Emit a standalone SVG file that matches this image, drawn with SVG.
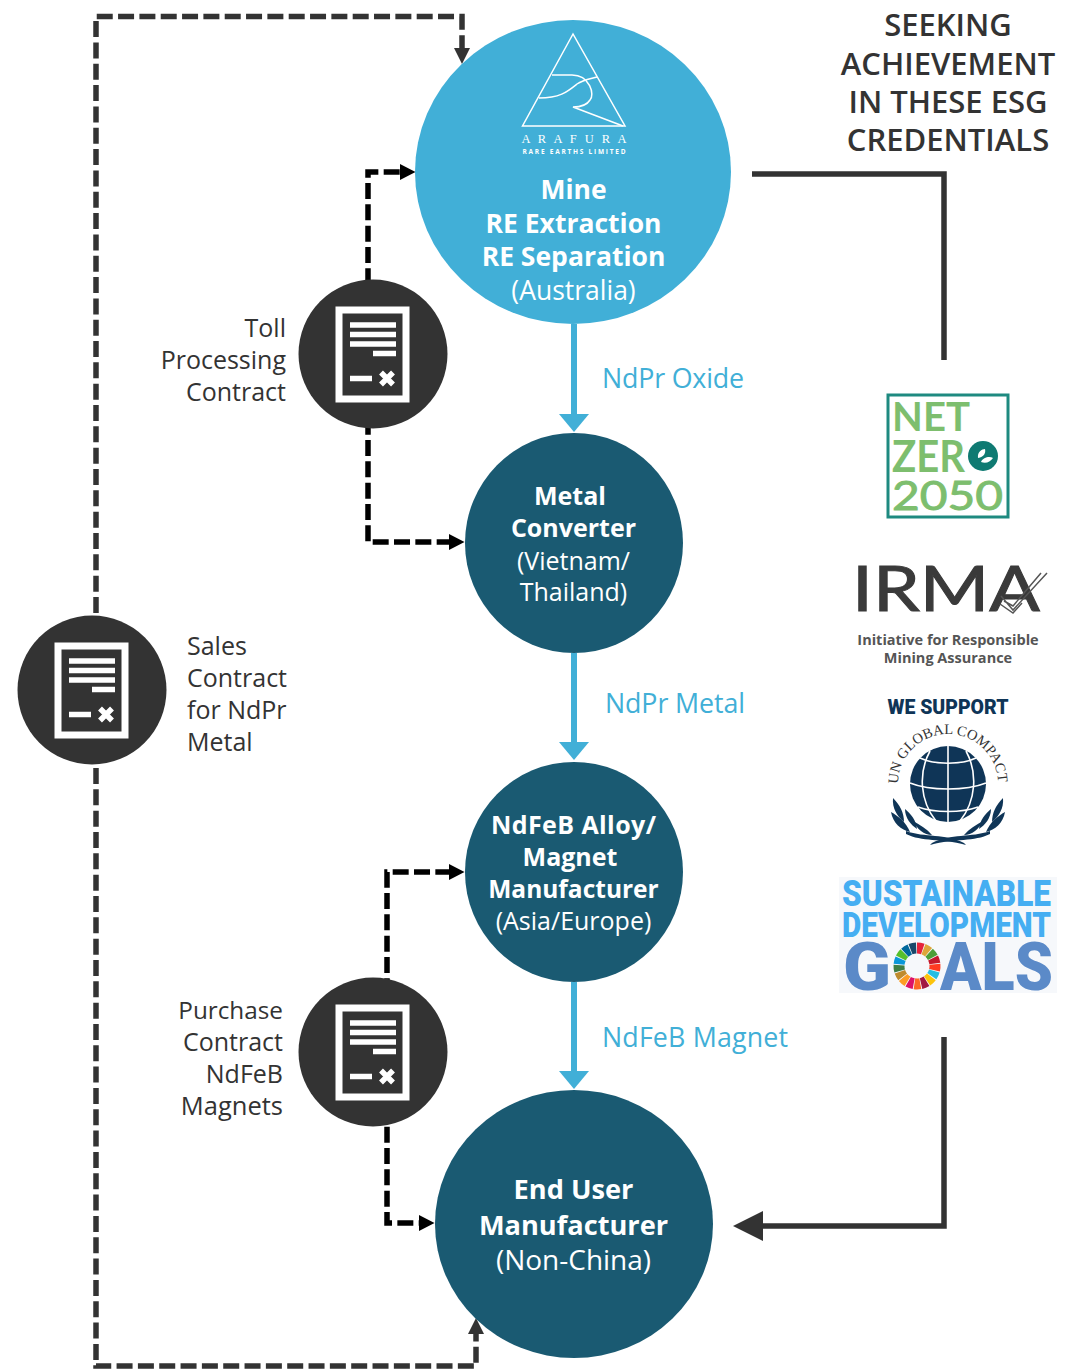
<svg xmlns="http://www.w3.org/2000/svg" width="1077" height="1369" viewBox="0 0 1077 1369">
<style>
text{font-family:"Open Sans","Noto Sans","Liberation Sans",sans-serif}
.nb{fill:#fff;font-weight:700;text-anchor:middle}
.nr{fill:#fff;font-weight:400;text-anchor:middle}
.lab{fill:#333;font-size:25px}
.flow{fill:#41afd7;font-size:26.800px}
.head{fill:#333;font-size:31px;font-weight:600;text-anchor:middle}
.dash{fill:none;stroke:#000;stroke-width:5.500;stroke-dasharray:16 5.330}
.dash2{fill:none;stroke:#333;stroke-width:5.500;stroke-dasharray:16 5.330}
.blue{fill:none;stroke:#41afd7;stroke-width:6}
.dark{fill:none;stroke:#333;stroke-width:5.500}
.sdg{font-family:"Roboto","Liberation Sans",sans-serif;font-weight:900}
.nz{font-family:"Lato","Liberation Sans",sans-serif;font-weight:700;fill:#7dbe6e}
</style>
<defs>
<marker id="ab" markerUnits="userSpaceOnUse" markerWidth="20" markerHeight="30" refX="2" refY="15" orient="auto"><path d="M0 0L18 15L0 30Z" fill="#41afd7"/></marker>
<marker id="ak" markerUnits="userSpaceOnUse" markerWidth="16" markerHeight="16" refX="2" refY="8" orient="auto"><path d="M0 0L15.500 8L0 16Z" fill="#000"/></marker>
<marker id="ak2" markerUnits="userSpaceOnUse" markerWidth="16" markerHeight="16" refX="2" refY="8" orient="auto"><path d="M0 0L16 8L0 16Z" fill="#333"/></marker>
<marker id="ad" markerUnits="userSpaceOnUse" markerWidth="32" markerHeight="30" refX="2" refY="15" orient="auto"><path d="M0 0L30 15L0 30Z" fill="#333"/></marker>
<g id="doc">
<circle r="74.500" fill="#333"/>
<rect x="-34" y="-44" width="67" height="89" fill="#333" stroke="#fff" stroke-width="7"/>
<path d="M-23-29H23M-23-19.500H23M-23-10H23M0-.5H23M-23 24.500H-1" stroke="#fff" stroke-width="5.500" fill="none"/>
<path d="M8 18.500L20 30.500M20 18.500L8 30.500" stroke="#fff" stroke-width="5.500" fill="none"/>
</g>
<g id="wr" fill="#0f3557">
<path d="M893 798C900 805 904 813 904 822C897 816 892 808 893 798Z"/>
<path d="M891 812C898 816 906 822 910 832C901 830 893 823 891 812Z"/>
<path d="M905 809C911 814 916 820 917 829C911 825 905 818 905 809Z"/>
<path d="M913 821C920 825 927 829 932 835C924 835 917 829 913 821Z"/>
<path d="M906 834C922 842 940 838 966 845L964 843C945 833 925 838 906 831Z"/>
</g>
</defs>
<rect width="1077" height="1369" fill="#fff"/>

<g id="connectors">
<path class="dash2" d="M96 613V16.500H462V50" marker-end="url(#ak2)"/>
<path class="dash2" d="M96 768V1366H476V1332" marker-end="url(#ak2)"/>
<path class="dash" d="M368 284.300V172H402" marker-end="url(#ak)"/>
<path class="dash" d="M368 418.700V542H451" marker-end="url(#ak)"/>
<path class="dash" d="M387 994.300V872H451" marker-end="url(#ak)"/>
<path class="dash" d="M387 1126.700V1223H421" marker-end="url(#ak)"/>
<path class="blue" d="M574 324V416" marker-end="url(#ab)"/>
<path class="blue" d="M574 653V744" marker-end="url(#ab)"/>
<path class="blue" d="M574 982V1073" marker-end="url(#ab)"/>
<path class="dark" d="M752 174H944V360"/>
<path class="dark" d="M944 1037V1226H761" marker-end="url(#ad)"/>
</g>

<g id="node-mine">
<ellipse cx="573" cy="172" rx="158" ry="152" fill="#41afd7"/>
<g fill="none" stroke="#fff" stroke-width="1.500">
<path d="M573 34L522.500 126H625Z"/>
<path d="M552 75H572C590 75 595 95 590 100C587 105 580 107 573 107L623 126"/>
<path d="M539 98C560 98 567 92 577 84C583 80 590 79 597 77"/>
</g>
<text x="574" y="143" text-anchor="middle" fill="#fff" font-size="12.500" textLength="105" style="font-family:'Liberation Serif',serif">A R A F U R A</text>
<text x="574" y="154" text-anchor="middle" fill="#fff" font-size="6.500" font-weight="700" textLength="103">RARE EARTHS LIMITED</text>
<text class="nb" x="573.500" y="199" font-size="26.500">Mine</text>
<text class="nb" x="573.500" y="233" font-size="26.500">RE Extraction</text>
<text class="nb" x="573.500" y="266" font-size="26.500">RE Separation</text>
<text class="nr" x="573.500" y="300" font-size="26.500">(Australia)</text>
</g>
<g id="node-metal">
<ellipse cx="574" cy="543" rx="109" ry="110" fill="#1a5a72"/>
<text class="nb" x="570" y="505" font-size="25">Metal</text>
<text class="nb" x="573.500" y="537" font-size="25">Converter</text>
<text class="nr" x="573.500" y="570" font-size="25">(Vietnam/</text>
<text class="nr" x="573.500" y="601" font-size="25">Thailand)</text>
</g>
<g id="node-magnet">
<ellipse cx="574" cy="872" rx="109" ry="110" fill="#1a5a72"/>
<text class="nb" x="573.500" y="834" font-size="25" textLength="165">NdFeB Alloy/</text>
<text class="nb" x="570" y="866" font-size="25">Magnet</text>
<text class="nb" x="573.500" y="898" font-size="24.500">Manufacturer</text>
<text class="nr" x="573.500" y="930" font-size="25">(Asia/Europe)</text>
</g>
<g id="node-enduser">
<ellipse cx="574" cy="1224" rx="139" ry="134" fill="#1a5a72"/>
<text class="nb" x="573.500" y="1198.500" font-size="27.200">End User</text>
<text class="nb" x="573.500" y="1234.500" font-size="27.200">Manufacturer</text>
<text class="nr" x="573.500" y="1270" font-size="28">(Non-China)</text>
</g>

<g id="contract-toll"><use href="#doc" x="373" y="354"/>
<text class="lab" x="286" y="337" text-anchor="end">Toll</text>
<text class="lab" x="286" y="369" text-anchor="end">Processing</text>
<text class="lab" x="286" y="401" text-anchor="end">Contract</text></g>
<g id="contract-sales"><use href="#doc" x="92" y="690"/>
<text class="lab" x="187" y="655">Sales</text>
<text class="lab" x="187" y="687">Contract</text>
<text class="lab" x="187" y="719">for NdPr</text>
<text class="lab" x="187" y="751">Metal</text></g>
<g id="contract-purchase"><use href="#doc" x="373" y="1052"/>
<text class="lab" x="283" y="1019" text-anchor="end" style="font-size:24.300px">Purchase</text>
<text class="lab" x="283" y="1051" text-anchor="end">Contract</text>
<text class="lab" x="283" y="1083" text-anchor="end">NdFeB</text>
<text class="lab" x="283" y="1115" text-anchor="end" style="font-size:25.500px">Magnets</text></g>

<g id="flow-labels">
<text class="flow" x="602" y="388" textLength="142">NdPr Oxide</text>
<text class="flow" x="605" y="713" textLength="140">NdPr Metal</text>
<text class="flow" x="602" y="1046.500" textLength="186">NdFeB Magnet</text>
</g>

<g id="esg-heading">
<text class="head" x="948" y="36">SEEKING</text>
<text class="head" x="948" y="75">ACHIEVEMENT</text>
<text class="head" x="948" y="113">IN THESE ESG</text>
<text class="head" x="948" y="151">CREDENTIALS</text>
</g>

<g id="logo-netzero">
<rect x="888" y="395" width="120" height="122" fill="#fff" stroke="#1e8a80" stroke-width="3"/>
<text class="nz" x="892" y="431" font-size="40" textLength="78" lengthAdjust="spacingAndGlyphs">NET</text>
<text class="nz" x="892" y="472" font-size="43" textLength="73" lengthAdjust="spacingAndGlyphs">ZER</text>
<circle cx="983" cy="456" r="15" fill="#0f7a72"/>
<path d="M978 458C977 452 982 449 985 449C986 453 984 457 978 458ZM981 462C983 457 990 456 993 458C990 462 986 464 981 462Z" fill="#fff"/>
<text class="nz" x="892" y="510" font-size="41" textLength="111" lengthAdjust="spacingAndGlyphs" stroke="#7dbe6e" stroke-width=".9" style="font-weight:400">2050</text>
</g>

<g id="logo-irma">
<text x="852" y="611" font-size="62" fill="#3a3a3a" stroke="#3a3a3a" stroke-width="1" textLength="188" lengthAdjust="spacingAndGlyphs" style="font-family:Lato,'Liberation Sans',sans-serif">IRMA</text>
<path d="M1001 596L1013 610L1047 573M1004 601L1013 606L1041 573M1000 604L1013 613L1022 603" fill="none" stroke="#555" stroke-width="1.500"/>
<text x="948" y="645" font-size="14.500" font-weight="700" fill="#555" text-anchor="middle">Initiative for Responsible</text>
<text x="948" y="663" font-size="14.500" font-weight="700" fill="#555" text-anchor="middle">Mining Assurance</text>
</g>

<g id="logo-ungc">
<text x="948" y="714" font-size="20" fill="#0f3557" text-anchor="middle" class="sdg" textLength="121" lengthAdjust="spacingAndGlyphs">WE SUPPORT</text>
<path id="ungc-arc" d="M898 784A50 50 0 0 1 998 784A50 50 0 0 1 993 806" fill="none"/>
<text font-size="14.500" fill="#333" style="font-family:'Liberation Serif',serif"><textPath href="#ungc-arc">UN GLOBAL COMPACT</textPath></text>
<circle cx="948" cy="784" r="38" fill="#0f3557"/>
<g fill="none" stroke="#fff" stroke-width="1.600">
<path d="M948 746V822M930 751C918 773 920 801 936 821M966 751C978 773 976 801 960 821"/>
<path d="M920 758C935 765 961 765 976 758M910 783C930 791 966 791 986 783M918 807C935 813 961 813 978 807"/>
</g>
<use href="#wr"/>
<use href="#wr" transform="translate(1896 0) scale(-1 1)"/>
</g>

<g id="logo-sdg">
<rect x="839" y="877" width="218" height="116" fill="#f6f8fb"/>
<text class="sdg" x="842" y="906" font-size="36" fill="#45aef2" textLength="209" lengthAdjust="spacingAndGlyphs">SUSTAINABLE</text>
<text class="sdg" x="842" y="937" font-size="35" fill="#45aef2" textLength="209" lengthAdjust="spacingAndGlyphs">DEVELOPMENT</text>
<text class="sdg" x="843" y="990" font-size="67" fill="#5b8ac8" textLength="48" lengthAdjust="spacingAndGlyphs">G</text>
<g fill="none" stroke-width="11" stroke-dasharray="5.900 200">
<circle cx="917" cy="966" r="18" stroke="#e5243b" transform="rotate(-90 917 966)"/>
<circle cx="917" cy="966" r="18" stroke="#dda63a" transform="rotate(-68.800 917 966)"/>
<circle cx="917" cy="966" r="18" stroke="#4c9f38" transform="rotate(-47.600 917 966)"/>
<circle cx="917" cy="966" r="18" stroke="#c5192d" transform="rotate(-26.500 917 966)"/>
<circle cx="917" cy="966" r="18" stroke="#ff3a21" transform="rotate(-5.300 917 966)"/>
<circle cx="917" cy="966" r="18" stroke="#26bde2" transform="rotate(15.900 917 966)"/>
<circle cx="917" cy="966" r="18" stroke="#fcc30b" transform="rotate(37.100 917 966)"/>
<circle cx="917" cy="966" r="18" stroke="#a21942" transform="rotate(58.200 917 966)"/>
<circle cx="917" cy="966" r="18" stroke="#fd6925" transform="rotate(79.400 917 966)"/>
<circle cx="917" cy="966" r="18" stroke="#dd1367" transform="rotate(100.600 917 966)"/>
<circle cx="917" cy="966" r="18" stroke="#fd9d24" transform="rotate(121.800 917 966)"/>
<circle cx="917" cy="966" r="18" stroke="#bf8b2e" transform="rotate(142.900 917 966)"/>
<circle cx="917" cy="966" r="18" stroke="#3f7e44" transform="rotate(164.100 917 966)"/>
<circle cx="917" cy="966" r="18" stroke="#0a97d9" transform="rotate(185.300 917 966)"/>
<circle cx="917" cy="966" r="18" stroke="#56c02b" transform="rotate(206.500 917 966)"/>
<circle cx="917" cy="966" r="18" stroke="#00689d" transform="rotate(227.600 917 966)"/>
<circle cx="917" cy="966" r="18" stroke="#19486a" transform="rotate(248.800 917 966)"/>
</g>
<text class="sdg" x="940" y="990" font-size="67" fill="#5b8ac8" textLength="113" lengthAdjust="spacingAndGlyphs">ALS</text>
</g>
</svg>
